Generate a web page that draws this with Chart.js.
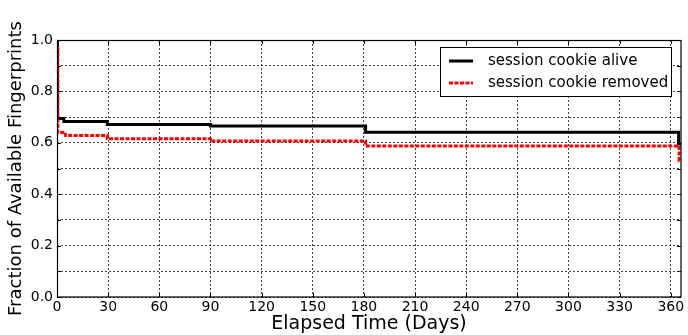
<!DOCTYPE html>
<html>
<head>
<meta charset="utf-8">
<script src="https://cdn.jsdelivr.net/npm/chart.js@4.4.1/dist/chart.umd.min.js"></script>
<style>
  html, body { margin: 0; padding: 0; background: #fff; }
  #wrap { width: 688px; height: 335px; position: relative; }
</style>
</head>
<body>
<div id="wrap"><canvas id="c" width="688" height="335"></canvas></div>
<script>
// ---- data ----
const seriesNames = ['session cookie alive', 'session cookie removed'];
const aliveDays = [0, 0.3, 4, 29.5, 90, 181, 364.6, 366];
const aliveVals = [1.0, 0.695, 0.683, 0.671, 0.665, 0.641, 0.595, 0.595];
const removedDays = [0, 0.5, 5, 29.5, 90, 181, 364.9, 365.3];
const removedVals = [0.97, 0.64, 0.628, 0.616, 0.607, 0.588, 0.53, 0.53];
const xTickValues = [0, 30, 60, 90, 120, 150, 180, 210, 240, 270, 300, 330, 360];
const yTickValues = [0, 0.1, 0.2, 0.3, 0.4, 0.5, 0.6, 0.7, 0.8, 0.9, 1.0];
const xTitle = 'Elapsed Time (Days)';
const yTitle = 'Fraction of Available Fingerprints';

const FONT = "'DejaVu Sans', sans-serif";
const toPts = (xs, ys) => xs.map((x, i) => ({ x: x, y: ys[i] }));

const framePlugin = {
  id: 'frame',
  afterDraw(chart) {
    const { ctx, chartArea: a, scales } = chart;
    ctx.save();
    // inward tick marks
    ctx.strokeStyle = '#000';
    ctx.lineWidth = 1;
    ctx.beginPath();
    xTickValues.forEach(v => {
      const px = Math.round(scales.x.getPixelForValue(v)) + 0.5;
      ctx.moveTo(px, a.bottom); ctx.lineTo(px, a.bottom - 4);
      ctx.moveTo(px, a.top); ctx.lineTo(px, a.top + 4);
    });
    yTickValues.forEach(v => {
      const py = Math.round(scales.y.getPixelForValue(v)) + 0.5;
      ctx.moveTo(a.left, py); ctx.lineTo(a.left + 4, py);
      ctx.moveTo(a.right, py); ctx.lineTo(a.right - 4, py);
    });
    ctx.stroke();
    // frame
    ctx.strokeStyle = '#000';
    ctx.lineWidth = 1.2;
    ctx.strokeRect(Math.round(a.left) + 0.5, Math.round(a.top) + 0.5,
                   Math.round(a.right - a.left) - 0.5, Math.round(a.bottom - a.top) - 0.5);
    // legend
    const lx = 440, ly = 47, lw = 231, lh = 49;
    ctx.fillStyle = '#fff';
    ctx.fillRect(lx, ly, lw, lh);
    ctx.lineWidth = 1;
    ctx.strokeStyle = '#000';
    ctx.strokeRect(lx + 0.5, ly + 0.5, lw, lh);
    const rows = [
      { y: 61, color: '#000', dash: [] },
      { y: 83, color: '#ff0000', dash: [4, 1.5] }
    ];
    rows.forEach((r, i) => {
      ctx.beginPath();
      ctx.setLineDash(r.dash);
      ctx.lineWidth = 3;
      ctx.strokeStyle = r.color;
      ctx.moveTo(449, r.y); ctx.lineTo(473, r.y);
      ctx.stroke();
      ctx.setLineDash([]);
      ctx.fillStyle = '#000';
      ctx.font = '15px ' + FONT;
      ctx.textBaseline = 'middle';
      ctx.textAlign = 'left';
      ctx.fillText(seriesNames[i], 488, r.y);
    });
    ctx.restore();
  }
};

new Chart(document.getElementById('c'), {
  type: 'line',
  data: {
    datasets: [
      {
        label: seriesNames[0],
        data: toPts(aliveDays, aliveVals),
        borderColor: '#000',
        borderWidth: 3,
        stepped: 'before',
        pointRadius: 0,
        fill: false,
        order: 1
      },
      {
        label: seriesNames[1],
        data: toPts(removedDays, removedVals),
        borderColor: '#ff0000',
        borderWidth: 3,
        borderDash: [4, 1.5],
        stepped: 'before',
        pointRadius: 0,
        fill: false,
        order: 0
      }
    ]
  },
  options: {
    responsive: false,
    animation: false,
    devicePixelRatio: 1,
    layout: { padding: { top: 40, right: 7, bottom: 0, left: 0 } },
    plugins: { legend: { display: false }, tooltip: { enabled: false } },
    scales: {
      x: {
        type: 'linear',
        min: 0,
        max: 366,
        afterBuildTicks(scale) {
          scale.ticks = xTickValues.map(v => ({ value: v }));
        },
        afterFit(scale) { scale.height = 38; },
        ticks: {
          color: '#000',
          font: { family: FONT, size: 14 },
          padding: 2,
          maxRotation: 0,
          autoSkip: false,
          callback: v => String(v)
        },
        grid: { color: 'rgba(0,0,0,0.75)', lineWidth: 1, drawTicks: false },
        border: { display: false, dash: [2, 2] },
        title: {
          display: true,
          text: xTitle,
          color: '#000',
          font: { family: FONT, size: 19, lineHeight: 1.2 },
          padding: { top: 0, bottom: 0 }
        }
      },
      y: {
        min: 0,
        max: 1,
        afterBuildTicks(scale) {
          scale.ticks = yTickValues.map(v => ({ value: v }));
        },
        afterFit(scale) { scale.width = 57; },
        ticks: {
          color: '#000',
          font: { family: FONT, size: 14 },
          padding: 4,
          autoSkip: false,
          callback: v => (Math.round(v * 10) % 2 === 0 ? v.toFixed(1) : '')
        },
        grid: { color: 'rgba(0,0,0,0.75)', lineWidth: 1, drawTicks: false },
        border: { display: false, dash: [2, 2] },
        title: {
          display: true,
          text: yTitle,
          color: '#000',
          font: { family: FONT, size: 18, lineHeight: 1.2 },
          padding: { top: 6, bottom: 0 }
        }
      }
    }
  },
  plugins: [framePlugin]
});
</script>
</body>
</html>
